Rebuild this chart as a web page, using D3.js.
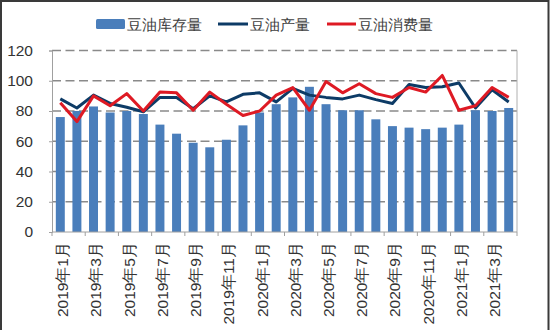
<!DOCTYPE html>
<html><head><meta charset="utf-8">
<script src="https://cdn.jsdelivr.net/npm/d3@7"></script>
<style>body{margin:0;background:#fff}svg{display:block}text{font-family:"Liberation Sans",Arial,sans-serif}</style>
</head><body><svg id="c" width="550" height="330"></svg>
<script>
const months = ["2019年1月","2019年2月","2019年3月","2019年4月","2019年5月","2019年6月","2019年7月","2019年8月","2019年9月","2019年10月","2019年11月","2019年12月",
"2020年1月","2020年2月","2020年3月","2020年4月","2020年5月","2020年6月","2020年7月","2020年8月","2020年9月","2020年10月","2020年11月","2020年12月",
"2021年1月","2021年2月","2021年3月","2021年4月"];
const stock = [76,80,83,79,80,78,71,65,59,56,61,70.5,79,84.5,89,96,84.5,80.5,80.5,74.5,70,69,68,69,71,80.5,80,82];
const production = [88,82,90.5,85,82.5,79.5,89,89,81.5,90,86,91,92,86,95,90.5,89,88,90.5,87.5,85,97.5,95.5,96,98.5,82,94,86];
const consumption = [85.5,73,90,83.5,91.5,80,92.5,92,80.5,92.5,84.5,77,80,90.5,95.5,80.5,99.5,92,98,91.5,89,95.5,92.5,103.5,80.5,83.5,95.5,89];
const yTicks = [0,20,40,60,80,100,120];
const seriesNames = ["豆油库存量","豆油产量","豆油消费量"];
const colors = {bar:"#4a7ebb", prod:"#0d3b66", cons:"#de1a24"};

const svg = d3.select("#c");
const L=52, R=517, T=50.5, B=232;
const x = d3.scaleBand().domain(months).range([L,R]).paddingInner(0.46).paddingOuter(0.23);
const xc = d => x(d)+x.bandwidth()/2;
const y = d3.scaleLinear().domain([0,120]).range([B,T]);

// outer border
svg.append("path").attr("d","M1,330 V1 H548.5 V330").attr("fill","none").attr("stroke","#3a3a3a").attr("stroke-width",2);

// gridlines
svg.append("g").selectAll("line").data(yTicks.filter(v=>v>0)).join("line")
  .attr("x1",L).attr("x2",R).attr("y1",d=>y(d)).attr("y2",d=>y(d))
  .attr("stroke","#8a8a8a").attr("stroke-width",1.5).attr("stroke-dasharray","9,4.5");

// right border of plot
svg.append("line").attr("x1",R).attr("x2",R).attr("y1",T).attr("y2",B).attr("stroke","#b0b0b0").attr("stroke-width",1);

// bars
svg.append("g").selectAll("rect").data(stock).join("rect")
  .attr("x",(d,i)=>x(months[i])).attr("width",x.bandwidth())
  .attr("y",d=>y(d)).attr("height",d=>B-y(d)).attr("fill",colors.bar);

// y axis
const ya = svg.append("g").attr("transform",`translate(${L},0)`).call(d3.axisLeft(y).tickValues(yTicks).tickSize(3).tickPadding(16));
ya.select(".domain").attr("stroke","#a0a0a0");
ya.selectAll(".tick line").attr("stroke","#a0a0a0");
ya.selectAll(".tick text").attr("font-size","15.5px").attr("fill","#333").attr("font-family","Liberation Sans, Arial, sans-serif");

// x axis
svg.append("line").attr("x1",L).attr("x2",R).attr("y1",B).attr("y2",B).attr("stroke","#a0a0a0");
const step = x.step();
const tickPos = d3.range(0, months.length+1, 2).map(i=>L + (i===months.length? (R-L) : (x(months[i]) - x.step()*x.paddingOuter()*1 - (x.step()-x.bandwidth())/2 + x.step()*x.paddingOuter() - 0)));
svg.append("g").selectAll("line").data(d3.range(0, months.length+1, 2)).join("line")
  .attr("x1",i=> L + i*(R-L)/months.length).attr("x2",i=> L + i*(R-L)/months.length)
  .attr("y1",B).attr("y2",B+4).attr("stroke","#a0a0a0");
svg.append("g").selectAll("text").data(months.filter((m,i)=>i%2===0)).join("text")
  .attr("transform",d=>`translate(${xc(d)+2.5},${B+10}) rotate(-90)`)
  .attr("text-anchor","end").attr("dy","0.35em")
  .attr("font-size","15.5px").attr("fill","#333").text(d=>d);

// lines
const line = d3.line().x((d,i)=>xc(months[i])).y(d=>y(d));
svg.append("path").datum(production).attr("d",line).attr("fill","none").attr("stroke",colors.prod).attr("stroke-width",3).attr("stroke-linejoin","round");
svg.append("path").datum(consumption).attr("d",line).attr("fill","none").attr("stroke",colors.cons).attr("stroke-width",3).attr("stroke-linejoin","round");

// legend
const lg = svg.append("g");
lg.append("rect").attr("x",96).attr("y",19).attr("width",29).attr("height",10).attr("rx",1.5).attr("fill",colors.bar);
lg.append("text").attr("x",127).attr("y",29.5).attr("font-size","14.5px").attr("fill","#404040").text(seriesNames[0]);
lg.append("line").attr("x1",218).attr("x2",248).attr("y1",24).attr("y2",24).attr("stroke",colors.prod).attr("stroke-width",3);
lg.append("text").attr("x",250).attr("y",29.5).attr("font-size","14.5px").attr("fill","#404040").text(seriesNames[1]);
lg.append("line").attr("x1",327).attr("x2",356).attr("y1",24).attr("y2",24).attr("stroke",colors.cons).attr("stroke-width",3);
lg.append("text").attr("x",358).attr("y",29.5).attr("font-size","14.5px").attr("fill","#404040").text(seriesNames[2]);
</script></body></html>
